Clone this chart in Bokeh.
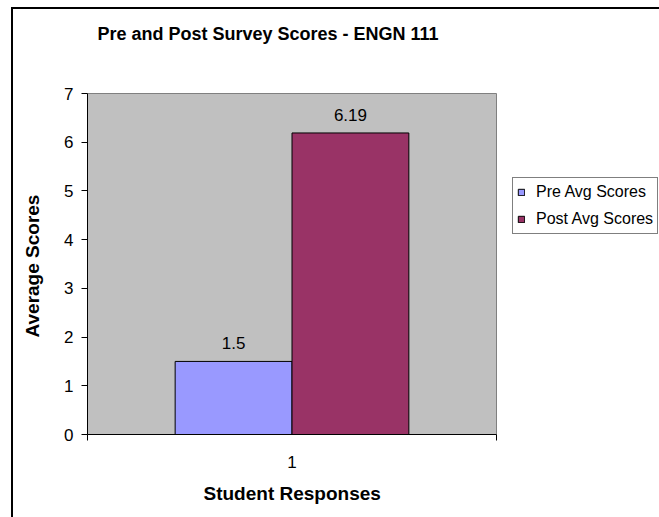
from bokeh.plotting import figure
from bokeh.models import (Range1d, FixedTicker, Legend, LegendItem, ColumnDataSource,
                          Label, Title)
from bokeh.embed import file_html
from bokeh.resources import INLINE

# ---- data ----
title_text = "Pre and Post  Survey Scores - ENGN 111"
x_title = "Student Responses"
y_title = "Average Scores"
categories = ["1"]
series_names = ["Pre Avg Scores", "Post Avg Scores"]
pre_scores = [1.5]
post_scores = [6.19]
y_ticks = [0, 1, 2, 3, 4, 5, 6, 7]

colors = ["#9999FF", "#993366"]
FONT = "Liberation Sans"

# ---- layout (pixels) ----
W, H = 659, 517
PLOT_L, PLOT_R, PLOT_T, PLOT_B = 87, 496, 93, 434   # gray plot area on the page
frame_w = W - PLOT_L
frame_h = PLOT_B
n = len(categories)
y_max = max(y_ticks)
x_end = n * frame_w / (PLOT_R - PLOT_L)
y_end = y_max * frame_h / (PLOT_B - PLOT_T)

centers = [i + 0.5 for i in range(n)]
bounds = list(range(n + 1))
bar_w = 1 / 3.5

p = figure(width=W, height=H, output_backend="svg", toolbar_location=None,
           x_range=Range1d(0, x_end), y_range=Range1d(0, y_end),
           min_border_left=PLOT_L, min_border_right=0, min_border_top=0,
           min_border_bottom=H - PLOT_B)

p.background_fill_alpha = 0
p.border_fill_alpha = 0
p.outline_line_color = None
p.styles = {
    "background": ("linear-gradient(#000, #000) 11px 7px / 2px 100% no-repeat, "
                   "linear-gradient(#000, #000) 11px 7px / 100% 2px no-repeat, #fff"),
}
p.xgrid.visible = False
p.ygrid.visible = False

# gray plot area
p.quad(left=[0], right=[n], bottom=[0], top=[y_max], fill_color="#C0C0C0",
       line_color="#808080", line_width=1, level="underlay")

src_pre = ColumnDataSource(dict(x=[c - bar_w / 2 for c in centers], top=pre_scores,
                                lab=[f"{v:g}" for v in pre_scores]))
src_post = ColumnDataSource(dict(x=[c + bar_w / 2 for c in centers], top=post_scores,
                                 lab=[f"{v:g}" for v in post_scores]))

r_pre = p.vbar(x="x", top="top", width=bar_w, source=src_pre, fill_color=colors[0],
               line_color="black", line_width=1)
r_post = p.vbar(x="x", top="top", width=bar_w, source=src_post, fill_color=colors[1],
                line_color="black", line_width=1)

for src in (src_pre, src_post):
    p.text(x="x", y="top", text="lab", source=src, text_align="center",
           text_baseline="bottom", y_offset=-12, text_font_size="17px",
           text_font={"value": FONT}, text_color="black")

# chart title
p.add_layout(Label(x=270, y=33, x_units="canvas", y_units="canvas", text=title_text,
                   text_align="center", text_baseline="middle", text_font=FONT,
                   text_font_size="18px", text_font_style="bold", text_color="black"))

# axes
xa = p.xaxis[0]
xa.bounds = (0, n)
xa.ticker = FixedTicker(ticks=centers, minor_ticks=bounds)
xa.major_label_overrides = {c: cat for c, cat in zip(centers, categories)}
xa.major_tick_line_color = None
xa.major_tick_out = 0
xa.major_tick_in = 0
xa.minor_tick_line_color = "black"
xa.minor_tick_out = 6
xa.minor_tick_in = 0
xa.axis_line_color = "black"
xa.major_label_standoff = 15
xa.major_label_text_font = FONT
xa.major_label_text_font_size = "17px"
xa.major_label_text_color = "black"

ya = p.yaxis[0]
ya.bounds = (0, y_max)
ya.ticker = FixedTicker(ticks=y_ticks)
ya.minor_tick_line_color = None
ya.major_tick_out = 6
ya.major_tick_in = 0
ya.axis_line_color = "black"
ya.major_label_standoff = 8
ya.major_label_text_font = FONT
ya.major_label_text_font_size = "17px"
ya.major_label_text_color = "black"

# axis titles, placed as side titles aligned to the plot area
xt = Title(text=x_title, align="left", offset=116, vertical_align="top", standoff=24,
           text_font=FONT, text_font_size="19px", text_font_style="bold",
           text_color="black")
p.add_layout(xt, "below")
yt = Title(text=y_title, align="left", offset=97, vertical_align="middle", standoff=36,
           text_font=FONT, text_font_size="19px", text_font_style="bold",
           text_color="black")
p.add_layout(yt, "left")

# legend
legend = Legend(items=[LegendItem(label=series_names[0], renderers=[r_pre]),
                       LegendItem(label=series_names[1], renderers=[r_post])],
                location=(425, 200), glyph_width=8, glyph_height=8,
                label_text_font=FONT, label_text_font_size="16px",
                label_text_color="black",
                label_height=20, spacing=7, padding=4, margin=0,
                label_standoff=11, border_line_color="black", border_line_width=1,
                background_fill_color="white", background_fill_alpha=1)
p.add_layout(legend, "center")

open("out.html", "w").write(file_html(p, INLINE))
